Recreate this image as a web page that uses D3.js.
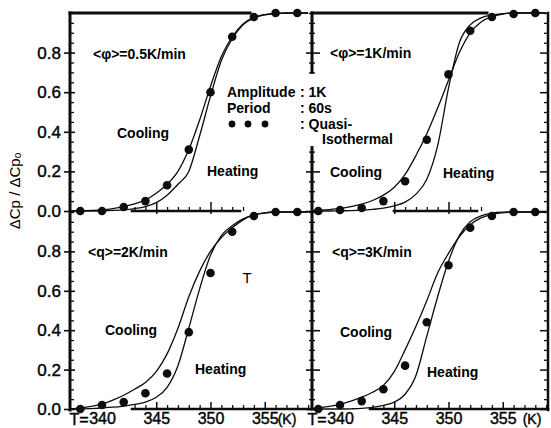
<!DOCTYPE html>
<html>
<head>
<meta charset="utf-8">
<script src="https://cdn.jsdelivr.net/npm/d3@7"></script>
<style>
  body { margin: 0; background: #fff; }
  svg { display: block; }
  text { font-family: "Liberation Sans", Arial, sans-serif; fill: #000; }
</style>
</head>
<body>
<svg id="chart" width="551" height="428"></svg>
<script>
// Temperature grid (K) on which the cooling / heating curves are sampled
const curveT = [337, 338, 339, 340, 341, 342, 343, 344, 345, 346, 347, 348,
                349, 350, 351, 352, 353, 354, 355, 356, 357, 358, 359];

// Quasi-isothermal points (K)
const dotT = [338, 340, 342, 344, 346, 348, 350, 352, 354, 356, 358];

// <q> = 0.5 K/min
const cool05 = [0, 0.001, 0.003, 0.006, 0.012, 0.022, 0.036, 0.056, 0.09, 0.135, 0.2, 0.31,
                0.46, 0.63, 0.78, 0.88, 0.945, 0.978, 0.992, 0.998, 1, 1, 1];
const heat05 = [0, 0, 0, 0.001, 0.003, 0.006, 0.012, 0.022, 0.042, 0.08, 0.135, 0.2,
                0.38, 0.58, 0.76, 0.87, 0.94, 0.975, 0.99, 0.997, 1, 1, 1];
const quasi05 = [0, 0, 0.02, 0.05, 0.13, 0.31, 0.60, 0.88, 0.98, 1, 1];

// <q> = 1 K/min
const cool1 = [0, 0.003, 0.007, 0.013, 0.022, 0.035, 0.053, 0.08, 0.12, 0.185, 0.28, 0.39,
               0.52, 0.66, 0.8, 0.9, 0.955, 0.982, 0.995, 1, 1, 1, 1];
const heat1 = [0, 0, 0, 0.001, 0.002, 0.004, 0.008, 0.014, 0.026, 0.045, 0.085, 0.16,
               0.33, 0.62, 0.85, 0.94, 0.975, 0.99, 0.997, 1, 1, 1, 1];
const quasi1 = [0, 0.005, 0.015, 0.05, 0.15, 0.36, 0.69, 0.91, 0.98, 0.995, 1];

// <q> = 2 K/min
const cool2 = [0, 0.005, 0.013, 0.025, 0.045, 0.07, 0.1, 0.135, 0.19, 0.28, 0.41, 0.57,
               0.7, 0.8, 0.87, 0.92, 0.96, 0.985, 0.995, 1, 1, 1, 1];
const heat2 = [0, 0, 0.002, 0.005, 0.009, 0.015, 0.023, 0.035, 0.06, 0.11, 0.22, 0.41,
               0.61, 0.78, 0.88, 0.93, 0.965, 0.985, 0.996, 1, 1, 1, 1];
const quasi2 = [0, 0.02, 0.035, 0.08, 0.18, 0.39, 0.69, 0.90, 0.98, 1, 1];

// <q> = 3 K/min
const cool3 = [0, 0.005, 0.013, 0.024, 0.04, 0.06, 0.085, 0.12, 0.19, 0.3, 0.42, 0.55,
               0.69, 0.79, 0.875, 0.935, 0.97, 0.988, 0.996, 1, 1, 1, 1];
const heat3 = [0, 0, 0, 0, 0.001, 0.003, 0.008, 0.018, 0.035, 0.075, 0.17, 0.37,
               0.57, 0.75, 0.88, 0.95, 0.98, 0.994, 0.999, 1, 1, 1, 1];
const quasi3 = [0, 0.02, 0.04, 0.10, 0.22, 0.44, 0.73, 0.92, 0.98, 1, 1];

// Axis tick values
const yMajor = [0, 0.2, 0.4, 0.6, 0.8];
const yMinor = [0.05, 0.1, 0.15, 0.25, 0.3, 0.35, 0.45, 0.5, 0.55, 0.65, 0.7, 0.75, 0.85, 0.9, 0.95, 1];
const xLabels = [340, 345, 350, 355];
const xMinorBottom = [343, 344, 346, 347, 348, 349, 351, 352, 353, 354, 356, 357, 358, 359];
const xMajorBottom = [345, 350, 355];

const svg = d3.select("#chart");

// Shared scales: left column / right column, upper row / lower row
const xL = d3.scaleLinear().domain([340, 355]).range([102, 264.75]);
const xR = d3.scaleLinear().domain([340, 355]).range([340, 502.75]);
const yU = d3.scaleLinear().domain([0, 1]).range([211, 13]);
const yD = d3.scaleLinear().domain([0, 1]).range([409, 212]);

const defs = svg.append("defs");
defs.append("clipPath").attr("id", "clipL").append("rect")
  .attr("x", 70).attr("y", 0).attr("width", 242).attr("height", 428);
defs.append("clipPath").attr("id", "clipR").append("rect")
  .attr("x", 312).attr("y", 0).attr("width", 236).attr("height", 428);

const ink = "#0d0d0d";

function bar(x1, y1, x2, y2, w) {
  svg.append("line").attr("x1", x1).attr("y1", y1).attr("x2", x2).attr("y2", y2)
    .attr("stroke", ink).attr("stroke-width", w).attr("stroke-linecap", "square");
}
function ticks(axis, tx, ty, w) {
  const g = svg.append("g").attr("transform", `translate(${tx},${ty})`).call(axis);
  g.select(".domain").remove();
  g.selectAll(".tick line").attr("stroke", ink).attr("stroke-width", w || 1.4);
  return g;
}

// ---- frame lines ----
bar(70, 13, 70, 410, 3);          // left axis
bar(312, 13, 312, 409, 3);        // middle axis
bar(548, 13, 548, 410, 2.5);      // right axis
bar(70, 13, 250, 13, 3);          // top border, left panel
bar(312, 13, 487, 13, 3);         // top border, right panel
bar(132, 211, 240, 211, 2.6);     // inner x axis, upper left
bar(394, 211, 477, 211, 2.6);     // inner x axis, upper right
bar(132, 409, 312, 409, 2.6);     // bottom axis, left
bar(370, 409, 548, 409, 2.6);     // bottom axis, right

// ---- y ticks ----
[yU, yD].forEach(y => {
  // left axis: labelled major ticks outside, minor ticks inside
  const lab = ticks(d3.axisLeft(y).tickValues(yMajor).tickSize(6).tickPadding(3)
    .tickFormat(d3.format(".1f")), 70, 0, 1.6);
  lab.selectAll("text").attr("font-size", 17).attr("fill", ink)
    .attr("stroke", ink).attr("stroke-width", 0.45);
  ticks(d3.axisRight(y).tickValues(yMajor).tickSize(5).tickFormat(""), 70, 0, 1.6);
  ticks(d3.axisRight(y).tickValues(yMinor).tickSize(4).tickFormat(""), 70, 0, 1.3);
  // middle axis: ticks on both sides
  ticks(d3.axisLeft(y).tickValues(yMajor).tickSize(6).tickFormat(""), 312, 0, 1.6);
  ticks(d3.axisRight(y).tickValues(yMajor).tickSize(8).tickFormat(""), 312, 0, 1.6);
  ticks(d3.axisLeft(y).tickValues(yMinor).tickSize(3).tickFormat(""), 312, 0, 1.3);
  ticks(d3.axisRight(y).tickValues(yMinor).tickSize(3).tickFormat(""), 312, 0, 1.3);
  // right axis: inward ticks
  ticks(d3.axisLeft(y).tickValues(yMajor).tickSize(8).tickFormat(""), 548, 0, 1.5);
  ticks(d3.axisLeft(y).tickValues(yMinor).tickSize(4).tickFormat(""), 548, 0, 1.3);
});

// ---- x ticks ----
[xL, xR].forEach(x => {
  ticks(d3.axisTop(x).tickValues(xMinorBottom).tickSize(4).tickFormat(""), 0, 409, 1.3);
  ticks(d3.axisTop(x).tickValues(xMajorBottom).tickSize(7).tickFormat(""), 0, 409, 1.5);
  const lab = ticks(d3.axisBottom(x).tickValues(xLabels).tickSize(0).tickPadding(4)
    .tickFormat(d3.format("d")), 0, 409);
  lab.selectAll("text").attr("font-size", 16).attr("fill", ink)
    .attr("stroke", ink).attr("stroke-width", 0.45);
});
ticks(d3.axisTop(xL).tickValues([343, 344, 346, 347, 348, 349, 351, 352, 353]).tickSize(4).tickFormat(""), 0, 211, 1.3);
ticks(d3.axisTop(xL).tickValues([345, 350]).tickSize(9).tickFormat(""), 0, 211, 1.5);
ticks(d3.axisBottom(xL).tickValues([345, 350]).tickSize(3).tickFormat(""), 0, 211, 1.5);
ticks(d3.axisTop(xR).tickValues([346, 347, 348, 349, 351, 352, 353]).tickSize(4).tickFormat(""), 0, 211, 1.3);
ticks(d3.axisTop(xR).tickValues([345, 350]).tickSize(9).tickFormat(""), 0, 211, 1.5);
ticks(d3.axisBottom(xR).tickValues([345, 350]).tickSize(3).tickFormat(""), 0, 211, 1.5);

// ---- panels ----
const panels = [
  { x: xL, y: yU, clip: "clipL", cool: cool05, heat: heat05, quasi: quasi05 },
  { x: xR, y: yU, clip: "clipR", cool: cool1,  heat: heat1,  quasi: quasi1 },
  { x: xL, y: yD, clip: "clipL", cool: cool2,  heat: heat2,  quasi: quasi2 },
  { x: xR, y: yD, clip: "clipR", cool: cool3,  heat: heat3,  quasi: quasi3 }
];

panels.forEach(p => {
  const line = d3.line()
    .x((d, i) => p.x(curveT[i]))
    .y(d => p.y(d))
    .curve(d3.curveMonotoneX);
  const g = svg.append("g").attr("clip-path", `url(#${p.clip})`);
  [p.cool, p.heat].forEach(series => {
    g.append("path").attr("d", line(series))
      .attr("fill", "none").attr("stroke", ink).attr("stroke-width", 1.3);
  });
  svg.append("g").selectAll("circle").data(p.quasi).join("circle")
    .attr("cx", (d, i) => p.x(dotT[i]))
    .attr("cy", d => p.y(d))
    .attr("r", 4.3)
    .attr("fill", ink);
});

// ---- legend (white box over the middle axis) ----
svg.append("rect").attr("x", 222).attr("y", 74).attr("width", 150).attr("height", 72).attr("fill", "#fff");
const legend = svg.append("g").attr("font-size", 14).attr("font-weight", "bold");
function label(parent, x, y, str, opts) {
  const t = parent.append("text").attr("x", x).attr("y", y)
    .attr("dominant-baseline", "central").text(str);
  if (opts) Object.entries(opts).forEach(([k, v]) => t.attr(k, v));
  return t;
}
label(legend, 227, 92, "Amplitude");
label(legend, 300, 92, ": 1K");
label(legend, 227, 108, "Period");
label(legend, 300, 108, ": 60s");
[232, 248, 265].forEach(cx => legend.append("circle").attr("cx", cx).attr("cy", 124).attr("r", 3.4).attr("fill", ink));
label(legend, 300, 124, ": Quasi-");
label(legend, 322, 139, "Isothermal");

// ---- panel annotations ----
const notes = svg.append("g").attr("font-size", 14).attr("font-weight", "bold");
label(notes, 93, 54, "<φ>=0.5K/min");
label(notes, 330, 53, "<φ>=1K/min");
label(notes, 88, 252, "<q>=2K/min");
label(notes, 332, 252, "<q>=3K/min");
label(notes, 117, 133, "Cooling");
label(notes, 207, 171, "Heating");
label(notes, 330, 172, "Cooling");
label(notes, 443, 173, "Heating");
label(notes, 105, 330, "Cooling");
label(notes, 195, 369, "Heating");
label(notes, 340, 332, "Cooling");
label(notes, 427, 372, "Heating");
label(svg, 247, 277, "T", { "font-size": 15, "text-anchor": "middle" });

// ---- x-axis prefixes and units ----
const axisText = svg.append("g").attr("font-size", 16).attr("stroke", ink).attr("stroke-width", 0.45);
label(axisText, xL(340) - 13.5, 419, "T=", { "text-anchor": "end" });
label(axisText, xR(340) - 13.5, 419, "T=", { "text-anchor": "end" });
label(axisText, 287, 419, "(K)", { "text-anchor": "middle", "font-size": 14 });
label(axisText, 532, 419, "(K)", { "text-anchor": "middle", "font-size": 14 });

// ---- y-axis title ----
const yt = svg.append("text")
  .attr("transform", "translate(14,191) rotate(-90)")
  .attr("text-anchor", "middle").attr("dominant-baseline", "central")
  .attr("font-size", 15);
yt.append("tspan").text("ΔCp / ΔCp");
yt.append("tspan").text("o").attr("font-size", 10).attr("dy", 3);
</script>
</body>
</html>
